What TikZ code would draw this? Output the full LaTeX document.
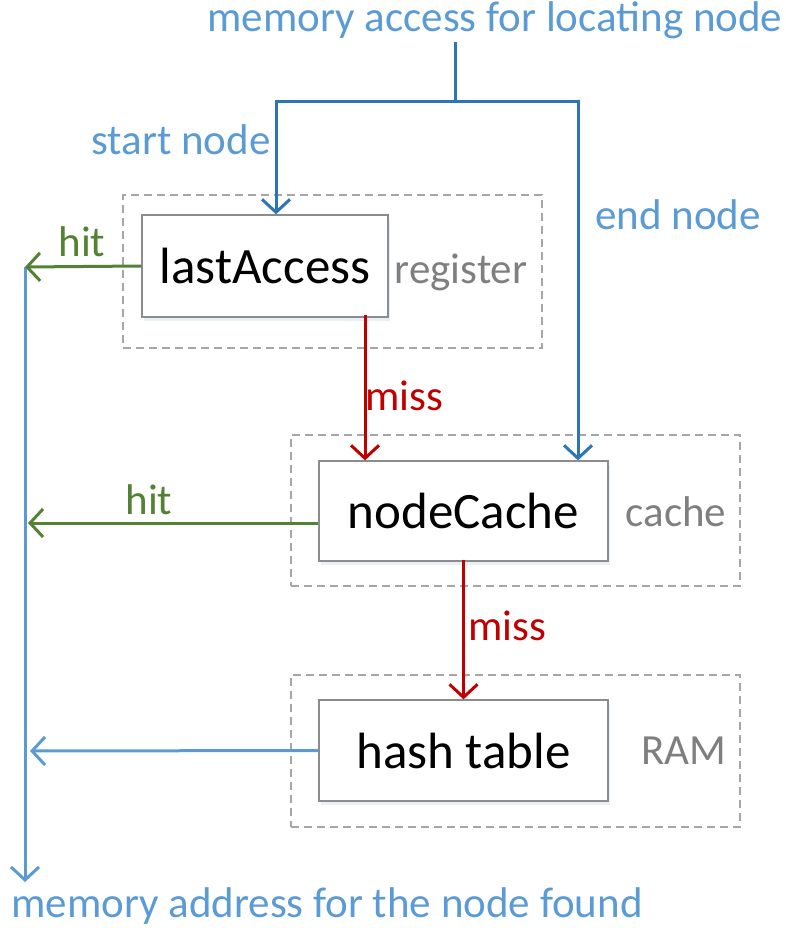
\documentclass[tikz,border=0pt]{standalone}
\usepackage{fontspec}
\setmainfont{Carlito}
\usetikzlibrary{arrows.meta,shadows}
\definecolor{lblue}{HTML}{5B9BD5}
\definecolor{dblue}{HTML}{2E75B6}
\definecolor{hgreen}{HTML}{548235}
\definecolor{mred}{HTML}{C00000}
\definecolor{gtext}{HTML}{7F7F7F}
\definecolor{dgray}{HTML}{A6A6A6}
\definecolor{bgray}{HTML}{8C8C8C}
\tikzset{
  tip/.style={-{Straight Barb[length=13pt,width=28pt,line width=3pt]}},
  conn/.style={line width=3pt},
  membox/.style={draw=bgray, line width=1.3pt, fill=white, inner sep=0pt,
     minimum width=#1, font=\fontsize{51}{55}\selectfont,
     drop shadow={shadow xshift=2pt, shadow yshift=-4pt, opacity=0.15, fill=lblue}},
  areabox/.style={draw=dgray, dashed, dash pattern=on 8pt off 5pt, line width=1.3pt, inner sep=0pt},
  lbl/.style={text=lblue, font=\fontsize{43}{47}\selectfont, inner sep=0pt},
  glbl/.style={text=gtext, font=\fontsize{43}{47}\selectfont, inner sep=0pt},
  hitlbl/.style={text=hgreen, font=\fontsize{43}{47}\selectfont, inner sep=0pt},
  misslbl/.style={text=mred, font=\fontsize{43}{47}\selectfont, inner sep=0pt},
}
\begin{document}
\begin{tikzpicture}[x=1pt,y=-1pt]
\useasboundingbox (0,0) rectangle (786,928);
% dashed areas
\node[areabox, minimum width=419pt, minimum height=153pt] (reg) at (332.5,271.5) {};
\node[areabox, minimum width=449pt, minimum height=151pt] (cac) at (515.5,510.5) {};
\node[areabox, minimum width=449pt, minimum height=152pt] (ram) at (515.5,751) {};
% main boxes
\node[membox=246pt, minimum height=102pt] (la) at (265,266) {lastAccess};
\node[membox=289pt, minimum height=100pt] (nc) at (463.5,511) {nodeCache};
\node[membox=289pt, minimum height=101pt] (ht) at (463.5,750.5) {hash table};
% area labels
\node[glbl] (treg) at (461,272) {register};
\node[glbl] (tcac) at (676,512) {cache};
\node[glbl] (tram) at (684,751) {RAM};
% top texts
\node[lbl] (top) at (495,20) {memory access for locating node};
\node[lbl] (sn) at (181,140) {start node};
\node[lbl] (en) at (678,215) {end node};
\node[lbl] (bot) at (327,906) {memory address for the node found};
% coordinates
\coordinate (ts) at (455,42);
\coordinate (j) at (455,102);
\coordinate (jl) at (276,102);
\coordinate (jr) at (578,102);
\coordinate (hl) at (25,267);
\coordinate (vb) at (25,882);
\coordinate (h2) at (28,523);
\coordinate (h3) at (30,751);
% blue access lines
\draw[conn, dblue] (ts) -- (j);
\draw[conn, dblue, tip] (j) -- (jl) -- (jl |- la.north);
\draw[conn, dblue, tip] (j) -- (jr) -- (jr |- nc.north);
% misses
\draw[conn, mred, tip] ([yshift=3pt]la.south -| 365,0) -- (nc.north -| 365,0);
\draw[conn, mred, tip] ([yshift=2pt]nc.south) -- (ht.north);
\node[misslbl] (m1) at (404,396) {miss};
\node[misslbl] (m2) at (507,626) {miss};
% result line
\draw[conn, lblue, tip] (hl) -- (vb);
\draw[conn, hgreen, tip] (la.west) -- (hl);
\draw[conn, hgreen, tip] (nc.west |- h2) -- (h2);
\draw[conn, lblue, tip] (ht.west) -- (h3);
\node[hitlbl] (hit1) at (82,242) {hit};
\node[hitlbl] (hit2) at (149,500) {hit};
\end{tikzpicture}
\end{document}
